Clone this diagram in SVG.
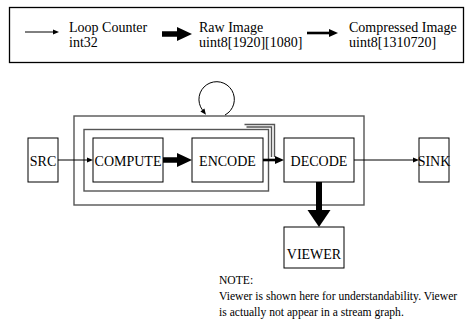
<svg xmlns="http://www.w3.org/2000/svg" width="469" height="324" viewBox="0 0 469 324">
<style>
text{font-family:"Liberation Serif","Times New Roman",serif;font-size:14px;fill:#000}
.note{font-size:11.6px}
.node{fill:#fff;stroke:#000;stroke-width:1}
.grp{fill:none;stroke:#555;stroke-width:1.4}
.thin{fill:none;stroke:#000;stroke-width:1;marker-end:url(#hThin)}
.med{fill:none;stroke:#000;stroke-width:2.6;marker-end:url(#hMed)}
.thick{fill:none;stroke:#000;stroke-width:5.5;marker-end:url(#hThick)}
.big{fill:none;stroke:#000;stroke-width:6;marker-end:url(#hBig)}
</style>
<defs>
<marker id="hThin" markerUnits="userSpaceOnUse" markerWidth="7" markerHeight="6" refX="0" refY="2.5" orient="auto" overflow="visible"><path d="M0,0 L6,2.5 L0,5 z" fill="#000"/></marker>
<marker id="hMed" markerUnits="userSpaceOnUse" markerWidth="10" markerHeight="9" refX="0" refY="4" orient="auto" overflow="visible"><path d="M0,0 L9,4 L0,8 z" fill="#000"/></marker>
<marker id="hThick" markerUnits="userSpaceOnUse" markerWidth="16" markerHeight="15" refX="0" refY="7" orient="auto" overflow="visible"><path d="M0,0 L15,7 L0,14 z" fill="#000"/></marker>
<marker id="hBig" markerUnits="userSpaceOnUse" markerWidth="18" markerHeight="24" refX="0" refY="11.5" orient="auto" overflow="visible"><path d="M0,0 L17,11.5 L0,23 z" fill="#000"/></marker>
</defs>
<g id="legend">
<rect x="9.5" y="7.5" width="454" height="55" fill="none" stroke="#000" stroke-width="1.3"/>
<path class="thin" d="M25,32 H53"/>
<text x="69" y="32">Loop Counter</text>
<text x="69" y="47">int32</text>
<path class="thick" d="M162,34 H177"/>
<text x="199" y="32">Raw Image</text>
<text x="199" y="47">uint8[1920][1080]</text>
<path class="med" d="M307,33 H329"/>
<text x="349" y="32">Compressed Image</text>
<text x="349" y="47">uint8[1310720]</text>
</g>
<g id="outer">
<rect class="grp" x="74" y="116" width="290" height="89"/>
</g>
<g id="inner">
<rect class="grp" x="84" y="129.5" width="184.5" height="61.5"/>
<path class="grp" d="M246.5,127 H271.5 V157 M244.5,124.5 H274.5 V157"/>
</g>
<g id="SRC">
<rect class="node" x="28" y="138" width="30" height="44"/>
<text x="43" y="165.5" text-anchor="middle">SRC</text>
</g>
<g id="COMPUTE">
<rect class="node" x="93" y="138" width="70" height="44"/>
<text x="128" y="165.5" text-anchor="middle">COMPUTE</text>
</g>
<g id="ENCODE">
<rect class="node" x="192" y="138" width="71" height="44"/>
<text x="227.5" y="165.5" text-anchor="middle">ENCODE</text>
</g>
<g id="DECODE">
<rect class="node" x="284" y="138" width="70" height="44"/>
<text x="319" y="165.5" text-anchor="middle">DECODE</text>
</g>
<g id="SINK">
<rect class="node" x="419" y="138" width="30" height="44"/>
<text x="434" y="165.5" text-anchor="middle">SINK</text>
</g>
<g id="VIEWER">
<rect class="node" x="284" y="227" width="60" height="41"/>
<text x="314" y="259" text-anchor="middle">VIEWER</text>
</g>
<g id="connectors">
<path class="thin" d="M225,115 A17.7,17.7 0 1 0 202.4,109.9"/>
<path class="thin" d="M58,160 H87"/>
<path class="thick" d="M163,160 H177"/>
<path class="med" d="M263,160 H275"/>
<path class="thin" d="M354,160 H413"/>
<path class="big" d="M319,182 V210"/>
</g>
<g id="note">
<text class="note" x="219" y="284">NOTE:</text>
<text class="note" x="219" y="300">Viewer is shown here for understandability. Viewer</text>
<text class="note" x="219" y="315.5">is actually not appear in a stream graph.</text>
</g>
</svg>
